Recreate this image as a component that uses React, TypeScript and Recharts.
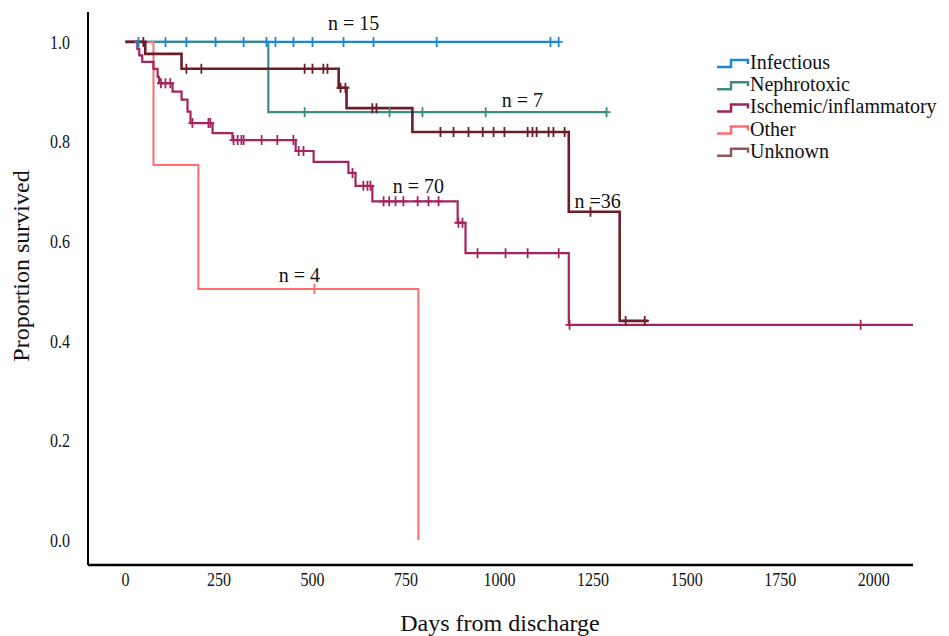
import React from 'react';
import { ComposedChart, Line, Scatter, XAxis, YAxis } from 'recharts';

const FONT = '"Liberation Serif", "Times New Roman", Times, serif';

const groupNames = ['Infectious', 'Nephrotoxic', 'Ischemic/inflammatory', 'Other', 'Unknown'];
const lineColors = ['#1d87d2', '#3b8b88', '#a3245f', '#ff6b6e', '#6c1e28'];
const legendColors = ['#1d87d2', '#3b8b88', '#a3245f', '#ff6b6e', '#8c5a5c'];
const lineWidths = [2.2, 2.2, 2.2, 2, 2.6];

const xTicks = [0, 250, 500, 750, 1000, 1250, 1500, 1750, 2000];
const yTicks = [0, 0.2, 0.4, 0.6, 0.8, 1.0];

// Infectious
const infectiousDays = [27, 1158];
const infectiousSurv = [1.0, 1.0];
const infectiousCensor = [35, 107, 163, 241, 316, 377, 401, 449, 500, 583, 663, 832, 1136, 1158];

// Nephrotoxic
const nephroDays = [0, 382, 1286];
const nephroSurv = [1.0, 0.859, 0.859];
const nephroCensor = [479, 706, 794, 963, 1286];

// Ischemic/inflammatory
const ischemicDays = [0, 32, 37, 45, 75, 86, 90, 126, 150, 166, 174, 233, 286, 455, 503, 596, 615, 660, 888, 909, 1185, 2105];
const ischemicSurv = [1.0, 0.986, 0.973, 0.96, 0.946, 0.93, 0.917, 0.9, 0.884, 0.86, 0.837, 0.817, 0.803, 0.781, 0.759, 0.737, 0.711, 0.68, 0.637, 0.576, 0.432, 0.432];
const ischemicCensor = [95, 107, 120, 179, 222, 227, 289, 300, 310, 316, 364, 406, 449, 463, 476, 607, 636, 647, 655, 690, 705, 722, 743, 781, 810, 837, 890, 901, 941, 1016, 1075, 1158, 1187, 1965];

// Other
const otherDays = [0, 75, 195, 783];
const otherSurv = [1.0, 0.753, 0.504, 0.0];
const otherCensor = [505];

// Unknown
const unknownDays = [0, 53, 150, 570, 591, 767, 1185, 1321, 1398];
const unknownSurv = [1.0, 0.976, 0.946, 0.908, 0.867, 0.819, 0.659, 0.44, 0.44];
const unknownCensor = [48, 163, 203, 479, 500, 529, 540, 575, 588, 660, 671, 842, 877, 917, 955, 984, 1013, 1075, 1088, 1099, 1131, 1144, 1174, 1243, 1337, 1388];

// n annotations
const noteTexts = ['n = 15', 'n = 7', 'n = 70', 'n =36', 'n = 4'];
const noteDays = [610, 1061, 783, 1262, 465];
const noteSurv = [1.024, 0.869, 0.697, 0.667, 0.518];

const toPts = (days: number[], surv: number[]) => days.map((t, i) => ({ t, s: surv[i] }));
const survAt = (days: number[], surv: number[], t: number) => {
  let v = surv[0];
  for (let i = 0; i < days.length; i++) if (days[i] <= t) v = surv[i];
  return v;
};
const censorPts = (days: number[], surv: number[], cens: number[]) =>
  cens.map((t) => ({ t, s: survAt(days, surv, t) }));

const series = [
  { days: infectiousDays, surv: infectiousSurv, cens: infectiousCensor },
  { days: nephroDays, surv: nephroSurv, cens: nephroCensor },
  { days: ischemicDays, surv: ischemicSurv, cens: ischemicCensor },
  { days: otherDays, surv: otherSurv, cens: otherCensor },
  { days: unknownDays, surv: unknownSurv, cens: unknownCensor },
];
const drawOrder = [0, 1, 3, 2, 4];

const notes = noteTexts.map((text, i) => ({ t: noteDays[i], s: noteSurv[i], text }));

const makeCensorShape = (color: string) => (props: any) => {
  const { cx, cy } = props;
  if (cx == null || cy == null) return null;
  return (
    <path
      d={`M${cx - 4},${cy} H${cx + 4} M${cx},${cy - 5} V${cy + 5}`}
      stroke={color}
      strokeWidth={1.8}
      fill="none"
    />
  );
};

const NoteShape = (props: any) => {
  const { cx, cy, payload } = props;
  return (
    <text x={cx} y={cy} textAnchor="middle" fontFamily={FONT} fontSize={20} fill="#111">
      {payload.text}
    </text>
  );
};

const TICK_SCALE = 0.82;

const renderXTick = (props: any) => {
  const { x, y, payload } = props;
  return (
    <g transform={`translate(${x},${y}) scale(${TICK_SCALE},1)`}>
      <text x={0} y={0} dy="0.71em" textAnchor="middle" style={{ fontFamily: FONT, fontSize: 19.5 }} fill="#111">
        {payload.value}
      </text>
    </g>
  );
};

const renderYTick = (props: any) => {
  const { x, y, payload } = props;
  return (
    <g transform={`translate(${x},${y}) scale(${TICK_SCALE},1)`}>
      <text x={0} y={0} dy="0.35em" textAnchor="end" style={{ fontFamily: FONT, fontSize: 19.5 }} fill="#111">
        {Number(payload.value).toFixed(1)}
      </text>
    </g>
  );
};

const W = 941;
const H = 628;

export default function App() {
  return (
    <div style={{ position: 'relative', width: W, height: H }}>
      <ComposedChart width={W} height={H} margin={{ top: 4, right: 36, left: 20, bottom: 31 }}>
        <XAxis
          type="number"
          dataKey="t"
          domain={[-100, 2105]}
          ticks={xTicks}
          tick={renderXTick}
          tickLine={false}
          tickSize={0}
          tickMargin={7}
          height={40}
          axisLine={{ stroke: '#000', strokeWidth: 2.5 }}
          allowDataOverflow
        />
        <YAxis
          type="number"
          dataKey="s"
          domain={[-0.05, 1.06]}
          ticks={yTicks}
          tick={renderYTick}
          tickLine={false}
          tickSize={0}
          tickMargin={18}
          width={60}
          axisLine={{ stroke: '#000', strokeWidth: 2 }}
          allowDataOverflow
        />
        {drawOrder.map((i) => (
          <Line
            key={'line' + i}
            data={toPts(series[i].days, series[i].surv)}
            dataKey="s"
            type="stepAfter"
            stroke={lineColors[i]}
            strokeWidth={lineWidths[i]}
            dot={false}
            activeDot={false}
            isAnimationActive={false}
            name={groupNames[i]}
          />
        ))}
        {drawOrder.map((i) => (
          <Scatter
            key={'cens' + i}
            data={censorPts(series[i].days, series[i].surv, series[i].cens)}
            shape={makeCensorShape(lineColors[i])}
            isAnimationActive={false}
          />
        ))}
        <Scatter data={notes} shape={<NoteShape />} isAnimationActive={false} />
      </ComposedChart>
      <svg
        width={W}
        height={H}
        style={{ position: 'absolute', left: 0, top: 0, pointerEvents: 'none', overflow: 'visible' }}
      >
        <text x={492} y={623} textAnchor="middle" fontFamily={FONT} fontSize={24} fill="#111">
          Days from discharge
        </text>
        <text
          x={21}
          y={258}
          textAnchor="middle"
          fontFamily={FONT}
          fontSize={24}
          fill="#111"
          transform="rotate(-90, 21, 258)"
        >
          Proportion survived
        </text>
        {groupNames.map((name, i) => {
          const base = 61 + i * 22.2;
          return (
            <g key={name}>
              <path
                d={`M709,${base - 2} H723 V${base - 9} H740 V${base - 5}`}
                stroke={legendColors[i]}
                strokeWidth={2.5}
                fill="none"
              />
              <text x={742} y={base} fontFamily={FONT} fontSize={20} fill="#111">
                {name}
              </text>
            </g>
          );
        })}
      </svg>
    </div>
  );
}
